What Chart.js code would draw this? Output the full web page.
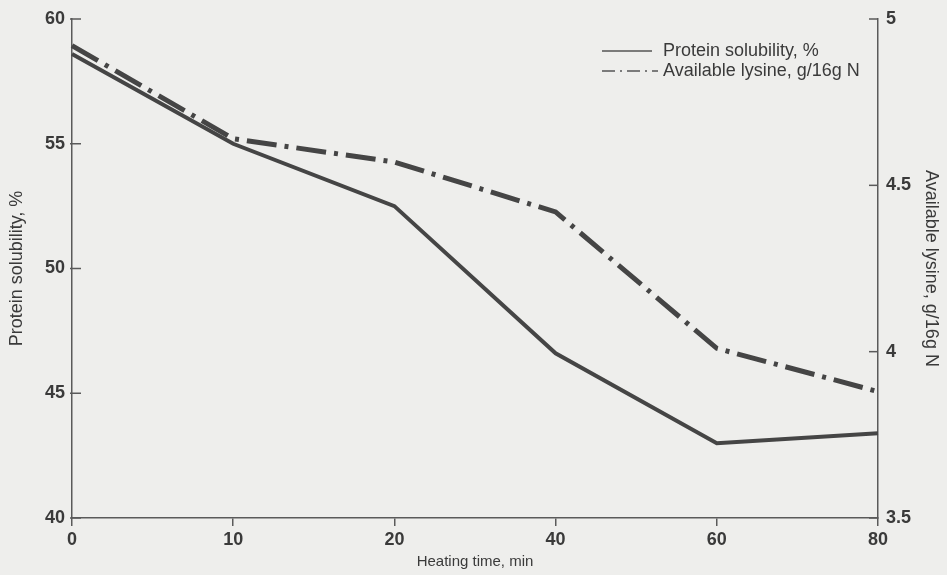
<!DOCTYPE html>
<html>
<head>
<meta charset="utf-8">
<script src="https://cdn.jsdelivr.net/npm/chart.js@4.4.1/dist/chart.umd.min.js"></script>
<style>
  html, body { margin: 0; padding: 0; background: #eeeeec; }
  #wrap { width: 947px; height: 575px; position: relative; }
</style>
</head>
<body>
<div id="wrap"><canvas id="chart" width="947" height="575"></canvas></div>
<script>
// data
const heatingTimes = ['0', '10', '20', '40', '60', '80'];
const proteinSolubility = [58.6, 55.0, 52.5, 46.6, 43.0, 43.4];
const availableLysine = [4.92, 4.64, 4.57, 4.42, 4.01, 3.88];
const leftTicks = [40, 45, 50, 55, 60];
const rightTicks = [3.5, 4, 4.5, 5];

const ink = '#454545';
const axisInk = '#5a5a5a';
const textInk = '#3a3a3a';
const fontFamily = '"Liberation Sans", Arial, Helvetica, sans-serif';
const lysineDash = [30, 8, 4, 8];
const tickFont = { family: fontFamily, size: 18, weight: 'bold' };

// y axis ticks point into the plot, so draw them here
const innerTicks = {
    id: 'innerTicks',
    afterDraw(chart) {
        const ctx = chart.ctx;
        const area = chart.chartArea;
        ctx.save();
        ctx.strokeStyle = axisInk;
        ctx.lineWidth = 1.5;
        leftTicks.forEach(v => {
            const y = chart.scales.y.getPixelForValue(v);
            ctx.beginPath();
            ctx.moveTo(area.left - 2, y);
            ctx.lineTo(area.left + 9, y);
            ctx.stroke();
        });
        rightTicks.forEach(v => {
            const y = chart.scales.y1.getPixelForValue(v);
            ctx.beginPath();
            ctx.moveTo(area.right - 9, y);
            ctx.lineTo(area.right, y);
            ctx.stroke();
        });
        ctx.restore();
    }
};

// legend in the upper right corner of the plot
const cornerLegend = {
    id: 'cornerLegend',
    afterDraw(chart) {
        const ctx = chart.ctx;
        const x0 = 602;
        const rows = [51, 71];
        ctx.save();
        ctx.font = '18px ' + fontFamily;
        ctx.textBaseline = 'middle';
        ctx.fillStyle = textInk;
        chart.data.datasets.forEach((ds, i) => {
            const y = rows[i];
            ctx.beginPath();
            ctx.strokeStyle = '#555';
            ctx.lineWidth = 1.5;
            ctx.setLineDash(i === 0 ? [] : [13, 5, 2, 5]);
            ctx.moveTo(x0, y);
            ctx.lineTo(i === 0 ? 652 : 658, y);
            ctx.stroke();
            ctx.setLineDash([]);
            ctx.fillText(ds.label, 663, y);
        });
        ctx.restore();
    }
};

const ctx = document.getElementById('chart').getContext('2d');
new Chart(ctx, {
    type: 'line',
    data: {
        labels: heatingTimes,
        datasets: [
            {
                label: 'Protein solubility, %',
                data: proteinSolubility,
                yAxisID: 'y',
                borderColor: ink,
                borderWidth: 4,
                pointRadius: 0,
                tension: 0,
                fill: false
            },
            {
                label: 'Available lysine, g/16g N',
                data: availableLysine,
                yAxisID: 'y1',
                borderColor: ink,
                borderWidth: 5,
                borderDash: lysineDash,
                pointRadius: 0,
                tension: 0,
                fill: false
            }
        ]
    },
    options: {
        responsive: false,
        animation: false,
        layout: { padding: { top: 19, left: 0, right: 0, bottom: 0 } },
        plugins: {
            legend: { display: false },
            tooltip: { enabled: false }
        },
        scales: {
            x: {
                type: 'category',
                offset: false,
                grid: { display: true, drawOnChartArea: false, drawTicks: true, tickLength: 8, color: axisInk, lineWidth: 1.5 },
                border: { display: true, color: axisInk, width: 1.5 },
                ticks: { color: textInk, font: tickFont, padding: 3, maxRotation: 0 },
                title: { display: true, text: 'Heating time, min', color: textInk, font: { family: fontFamily, size: 15 }, padding: { top: 0, bottom: 4 } },
                afterFit(scale) { scale.height = 57; }
            },
            y: {
                position: 'left',
                min: 40,
                max: 60,
                afterBuildTicks(scale) { scale.ticks = leftTicks.map(v => ({ value: v })); },
                grid: { display: false, drawTicks: false },
                border: { display: true, color: axisInk, width: 1.5 },
                ticks: { color: textInk, font: tickFont, padding: 7, callback: v => String(v) },
                title: { display: true, text: 'Protein solubility, %', color: textInk, font: { family: fontFamily, size: 18 }, padding: { top: 6, bottom: 0 } },
                afterFit(scale) { scale.width = 72; }
            },
            y1: {
                position: 'right',
                min: 3.5,
                max: 5,
                afterBuildTicks(scale) { scale.ticks = rightTicks.map(v => ({ value: v })); },
                grid: { display: false, drawTicks: false },
                border: { display: true, color: axisInk, width: 1.5 },
                ticks: { color: textInk, font: tickFont, padding: 8, callback: v => String(v) },
                title: { display: true, text: 'Available lysine, g/16g N', color: textInk, font: { family: fontFamily, size: 18 }, padding: { top: 5, bottom: 0 } },
                afterFit(scale) { scale.width = 69; }
            }
        }
    },
    plugins: [innerTicks, cornerLegend]
});
</script>
</body>
</html>
